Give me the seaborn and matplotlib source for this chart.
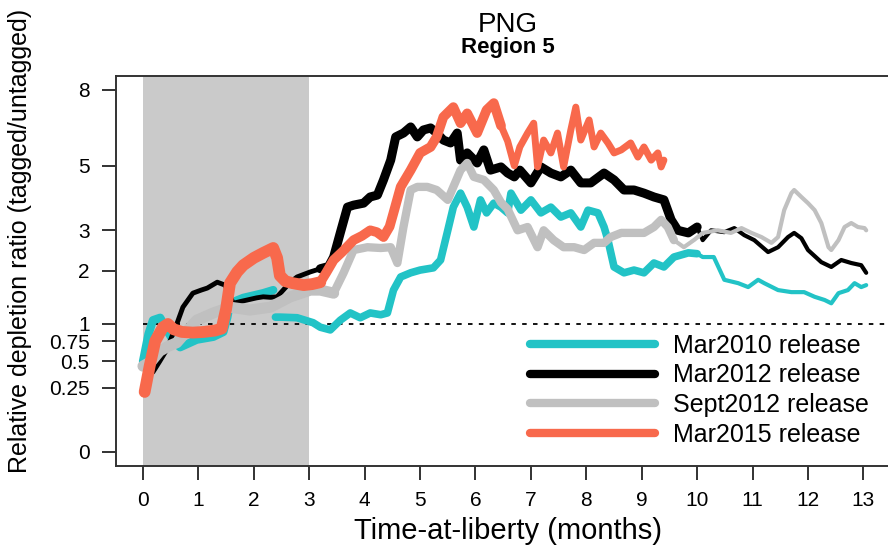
import numpy as np
import pandas as pd
import seaborn as sns
import matplotlib.pyplot as plt
from matplotlib.lines import Line2D

# time-at-liberty (months) and relative depletion ratio
mar2010_t = [0.0, 0.1, 0.18, 0.31, 0.43, 0.55, 0.67, 0.97, 1.27, 1.45, 1.52, 1.57, 1.81, 2.17, 2.35,
             2.39, 2.48, 2.78, 3.07, 3.2, 3.38, 3.56, 3.74, 3.92, 4.1, 4.29, 4.41, 4.52, 4.65, 4.83,
             5.0, 5.24, 5.37, 5.5, 5.6, 5.73, 5.85, 5.97, 6.09, 6.2, 6.33, 6.46, 6.58, 6.64, 6.82,
             7.0, 7.18, 7.36, 7.54, 7.72, 7.9, 8.03, 8.21, 8.32, 8.39, 8.5, 8.68, 8.86, 9.04, 9.22,
             9.4, 9.58, 9.84, 10.0, 10.1, 10.3, 10.49, 10.74, 10.92, 11.1, 11.21, 11.46, 11.7, 11.93,
             12.12, 12.3, 12.42, 12.55, 12.72, 12.84, 12.96, 13.05]
mar2010_v = [0.5, 0.85, 1.06, 1.10, 0.91, 0.75, 0.67, 0.77, 0.81, 0.88, 1.1, 1.35, 1.45, 1.54, 1.6,
             1.11, 1.11, 1.10, 1.02, 0.95, 0.91, 1.06, 1.18, 1.10, 1.18, 1.15, 1.18, 1.6, 1.87, 1.96,
             2.02, 2.07, 2.25, 3.0, 3.66, 4.09, 3.66, 3.09, 3.88, 3.49, 3.78, 3.66, 3.49, 4.09, 3.57,
             3.88, 3.49, 3.66, 3.37, 3.49, 3.09, 3.57, 3.49, 3.09, 2.74, 2.09, 1.96, 2.02, 1.96, 2.18,
             2.09, 2.32, 2.42, 2.4, 2.32, 2.32, 1.81, 1.74, 1.66, 1.81, 1.74, 1.60, 1.56, 1.56,
             1.47, 1.41, 1.35, 1.54, 1.6, 1.74, 1.66, 1.70]

mar2012_t = [0.0, 0.1, 0.18, 0.3, 0.43, 0.61, 0.72, 0.9, 1.05, 1.16, 1.34, 1.48, 1.56, 1.63, 1.75,
             1.88, 2.05, 2.17, 2.3, 2.42, 2.53, 2.65, 2.78, 3.02, 3.2, 3.35, 3.44, 3.56, 3.69, 3.8,
             3.98, 4.1, 4.23, 4.34, 4.47, 4.56, 4.7, 4.83, 4.95, 5.06, 5.19, 5.3, 5.42, 5.55, 5.67,
             5.73, 5.85, 6.03, 6.15, 6.27, 6.46, 6.58, 6.7, 6.8, 7.0, 7.18, 7.36, 7.54, 7.72, 7.9,
             8.08, 8.32, 8.5, 8.68, 8.86, 9.04, 9.22, 9.4, 9.53, 9.65, 9.84, 10.0, 10.1, 10.25, 10.49,
             10.67, 10.85, 11.03, 11.28, 11.46, 11.64, 11.75, 11.88, 12.0, 12.24, 12.42, 12.6, 12.78,
             12.96, 13.05]
mar2012_v = [0.48, 0.42, 0.39, 0.5, 0.64, 1.0, 1.28, 1.54, 1.6, 1.64, 1.76, 1.70, 1.5, 1.35, 1.38,
             1.41, 1.45, 1.47, 1.46, 1.47, 1.6, 1.75, 1.87, 1.98, 2.05, 2.1, 2.32, 2.93, 3.66, 3.72,
             3.78, 3.97, 4.03, 4.52, 5.2, 6.06, 6.21, 6.45, 6.06, 6.33, 6.41, 6.21, 5.94, 5.83, 6.21,
             5.2, 5.46, 5.1, 5.57, 4.85, 4.96, 4.75, 4.62, 4.85, 4.42, 4.96, 4.75, 4.62, 4.85, 4.42,
             4.42, 4.75, 4.52, 4.19, 4.19, 4.09, 3.97, 3.88, 3.29, 3.0, 2.93, 3.09, 2.74, 3.0, 2.95,
             3.06, 2.87, 2.74, 2.44, 2.56, 2.82, 2.93, 2.79, 2.49, 2.2, 2.09, 2.25, 2.18,
             2.13, 1.96]

sept2012_t = [0.0, 0.15, 0.3, 0.45, 0.61, 0.8, 0.97, 1.27, 1.57, 1.93, 2.3, 2.66, 3.02, 3.2, 3.44,
              3.62, 3.8, 4.05, 4.29, 4.47, 4.59, 4.7, 4.83, 4.95, 5.13, 5.3, 5.5, 5.6, 5.73, 5.85,
              5.97, 6.15, 6.33, 6.46, 6.58, 6.76, 6.94, 7.12, 7.23, 7.41, 7.59, 7.78, 7.96, 8.14,
              8.32, 8.44, 8.63, 8.8, 9.04, 9.22, 9.35, 9.47, 9.58, 9.76, 9.95, 10.1, 10.37, 10.61,
              10.8, 10.98, 11.16, 11.34, 11.46, 11.57, 11.7, 11.75, 11.88, 12.0, 12.12, 12.24, 12.37,
              12.42, 12.55, 12.66, 12.78, 12.9, 13.02, 13.05]
sept2012_v = [0.45, 0.5, 0.62, 0.68, 0.73, 0.9, 1.06, 1.18, 1.28, 1.23, 1.28, 1.47, 1.6, 1.6, 1.54,
              1.96, 2.49, 2.56, 2.54, 2.56, 2.18, 3.09, 4.19, 4.29, 4.29, 4.19, 3.88, 4.29, 4.85, 5.1,
              4.62, 4.52, 4.19, 3.8, 3.6, 3.0, 3.09, 2.56, 3.0, 2.74, 2.56, 2.56, 2.49, 2.67,
              2.67, 2.82, 2.93, 2.93, 2.93, 3.09, 3.29, 3.09, 2.74, 2.56, 2.75, 2.93, 3.0, 2.93,
              3.06, 2.93, 2.82, 2.67, 2.82, 3.57, 4.09, 4.19, 3.97, 3.78, 3.57, 3.2, 2.56,
              2.49, 2.74, 3.09, 3.2, 3.09, 3.06, 3.0]

mar2015_t = [0.03, 0.12, 0.22, 0.36, 0.45, 0.55, 0.7, 0.9, 1.1, 1.3, 1.42, 1.5, 1.57, 1.7, 1.81,
             2.0, 2.17, 2.35, 2.42, 2.47, 2.57, 2.7, 2.9, 3.05, 3.2, 3.3, 3.44, 3.6, 3.8, 3.95,
             4.1, 4.22, 4.34, 4.45, 4.52, 4.65, 4.83, 5.0, 5.19, 5.3, 5.42, 5.6, 5.73, 5.85, 6.03,
             6.2, 6.33, 6.46, 6.58, 6.7, 6.8, 6.94, 7.05, 7.12, 7.23, 7.36, 7.48, 7.59, 7.72, 7.81,
             7.9, 8.05, 8.14, 8.26, 8.39, 8.5, 8.63, 8.8, 8.93, 9.04, 9.17, 9.29, 9.35, 9.4]
mar2015_v = [0.22, 0.45, 0.75, 0.95, 1.0, 0.92, 0.88, 0.87, 0.88, 0.9, 0.93, 1.25, 1.74, 1.98, 2.13,
             2.3, 2.42, 2.54, 2.3, 1.9, 1.78, 1.74, 1.70, 1.72, 1.76, 1.95, 2.25, 2.45, 2.74, 2.85,
             3.0, 2.95, 2.82, 3.1, 3.49, 4.29, 4.85, 5.46, 5.68, 6.06, 6.85, 7.26, 6.6, 7.0, 6.21,
             7.14, 7.43, 6.5, 5.9, 5.0, 5.68, 6.21, 6.6, 4.96, 5.94, 5.46, 6.21, 4.96, 6.33, 7.26,
             5.94, 6.73, 5.68, 6.21, 5.83, 5.46, 5.57, 5.83, 5.31, 5.68, 5.2, 5.46, 4.96, 5.2]

labels = ["Mar2010 release", "Mar2012 release", "Sept2012 release", "Mar2015 release"]
colors = ["#22c3c6", "#000000", "#c0c0c0", "#f8694c"]
yticks = [0, 0.25, 0.5, 0.75, 1, 2, 3, 5, 8]
ytick_labels = ["0", "0.25", "0.5", "0.75", "1", "2", "3", "5", "8"]

frames = []
for lab, t, v in [(labels[0], mar2010_t, mar2010_v), (labels[1], mar2012_t, mar2012_v),
                  (labels[2], sept2012_t, sept2012_v), (labels[3], mar2015_t, mar2015_v)]:
    frames.append(pd.DataFrame({"release": lab, "t": t, "ratio": v}))
df = pd.concat(frames, ignore_index=True)

# line width changes along each curve: (from, to, width in pt)
widths = {
    labels[0]: [(0, 2.36, 6), (2.38, 10.0, 5.5), (10.0, 13.1, 3)],
    labels[1]: [(0, 3.2, 3.5), (3.2, 10.0, 6.5), (10.0, 13.1, 3)],
    labels[2]: [(0, 3.44, 8), (3.44, 9.58, 6), (9.58, 13.1, 3)],
    labels[3]: [(0, 3.2, 8.5), (3.2, 6.46, 7), (6.46, 9.5, 5)],
}
order = [2, 0, 1, 3]

sns.set_theme(style="ticks")
plt.rcParams['font.family'] = ['Liberation Sans', 'DejaVu Sans']
plt.rcParams['text.color'] = 'black'
plt.rcParams['axes.labelcolor'] = 'black'

fig = plt.figure(figsize=(8.88, 5.51), dpi=100)
ax = fig.add_axes([116 / 888, 1 - 466 / 551, 784 / 888, 390 / 551])

fwd = lambda v: np.sign(v) * np.sqrt(np.abs(v))
inv = lambda s: np.sign(s) * s ** 2
ax.set_yscale('function', functions=(fwd, inv))

ax.axvspan(0, 3, color="#cacaca", lw=0, zorder=0)
ax.hlines(1, 0, 14, colors="black", linestyles=(0, (2.5, 3.5)), lw=1.3, zorder=1)

for i in order:
    lab = labels[i]
    sub = df[df.release == lab]
    for a, b, lw in widths[lab]:
        part = sub[(sub.t >= a) & (sub.t <= b)]
        sns.lineplot(data=part, x="t", y="ratio", color=colors[i], linewidth=lw,
                     estimator=None, sort=False, legend=False, ax=ax,
                     solid_capstyle="round", solid_joinstyle="round", zorder=2 + i)

ax.set_xlim(-0.487, 13.66)
ax.set_ylim(-0.012, 8.63)
ax.set_xticks(range(14))
ax.set_yticks(yticks)
ax.set_yticklabels(ytick_labels)
ax.minorticks_off()
ax.tick_params(axis="both", direction="out", length=10, width=1.3, colors="#222222",
               labelcolor="black")
ax.tick_params(axis="x", labelsize=15, pad=8)
ax.tick_params(axis="y", labelsize=15, pad=9)
for s in ["top", "left", "bottom"]:
    ax.spines[s].set_linewidth(1.4)
    ax.spines[s].set_color("#333333")
ax.spines["right"].set_visible(False)

ax.set_xlabel("Time-at-liberty (months)", fontsize=21, labelpad=5)
ax.set_ylabel("")
fig.text(20 / 888, 1 - 241 / 551, "Relative depletion ratio (tagged/untagged)",
         rotation=90, ha="center", va="center", fontsize=18)

fig.text(508 / 888, 1 - 25 / 551, "PNG", ha="center", va="center", fontsize=20)
fig.text(508 / 888, 1 - 47 / 551, "Region 5", ha="center", va="center", fontsize=16,
         fontweight="bold")

handles = [Line2D([0], [0], color=c, lw=6, solid_capstyle="round") for c in colors]
ax.legend(handles, labels, loc="upper left", bbox_to_anchor=(530 / 888, 1 - 334 / 551),
          bbox_transform=fig.transFigure, frameon=False, fontsize=18, handlelength=5,
          handletextpad=0.7, labelspacing=0.22, borderpad=0, borderaxespad=0)

fig.savefig("out.png", dpi=100)
